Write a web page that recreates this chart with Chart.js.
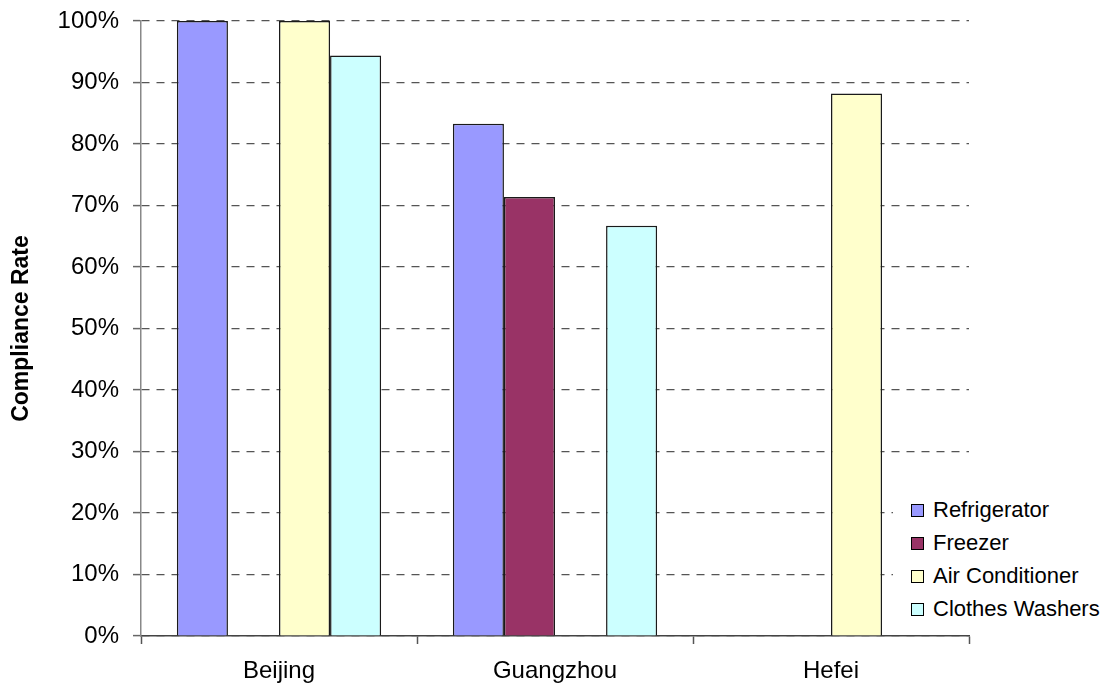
<!DOCTYPE html>
<html>
<head>
<meta charset="utf-8">
<script src="https://cdn.jsdelivr.net/npm/chart.js@4/dist/chart.umd.min.js"></script>
<style>
  html, body { margin: 0; padding: 0; background: #fff; }
  #wrap { position: relative; width: 1107px; height: 686px; }
  #legend { position: absolute; left: 893px; top: 491px; width: 214px; height: 134px; background: #fff;
            font-family: "Liberation Sans", Arial, sans-serif; font-size: 22px; color: #000; }
  .item { position: absolute; left: 18px; height: 24px; line-height: 24px; white-space: nowrap; }
  .box { position: absolute; left: 0; top: 6px; width: 13px; height: 13px; border: 1px solid #000; box-sizing: border-box; }
  .lbl { position: absolute; left: 22px; top: 0; }
</style>
</head>
<body>
<div id="wrap">
  <canvas id="c" width="1107" height="686"></canvas>
  <div id="legend"></div>
</div>
<script>
const categories = ["Beijing", "Guangzhou", "Hefei"];
const seriesNames = ["Refrigerator", "Freezer", "Air Conditioner", "Clothes Washers"];
const refrigerator = [100, 83.3, null];
const freezer = [null, 71.4, null];
const airConditioner = [100, null, 88.2];
const clothesWashers = [94.4, 66.7, null];
const seriesColors = ["#9999FF", "#993366", "#FFFFCC", "#CCFFFF"];
const yTicks = [0, 10, 20, 30, 40, 50, 60, 70, 80, 90, 100];

const seriesValues = [refrigerator, freezer, airConditioner, clothesWashers];

const datasets = seriesNames.map((name, i) => ({
  label: name,
  data: seriesValues[i],
  backgroundColor: seriesColors[i],
  borderColor: "#1a1a1a",
  borderWidth: 1.5,
  borderSkipped: "bottom",
  categoryPercentage: 0.74,
  barPercentage: 1.0,
  clip: false
}));

const FONT = "'Liberation Sans', Arial, sans-serif";

new Chart(document.getElementById("c"), {
  type: "bar",
  data: { labels: categories, datasets },
  options: {
    responsive: false,
    animation: false,
    layout: { padding: { left: 0, right: 138, top: 21, bottom: 0 } },
    plugins: {
      legend: { display: false },
      tooltip: { enabled: false }
    },
    scales: {
      x: {
        offset: true,
        afterFit: (s) => { s.height = 50; s.paddingLeft = 0; s.paddingRight = 0; },
        grid: {
          offset: true,
          drawOnChartArea: false,
          drawTicks: true,
          tickLength: 8,
          tickColor: "#555",
          tickWidth: 1.5
        },
        border: { display: true, color: "#444", width: 1.5 },
        ticks: {
          color: "#000",
          font: { family: FONT, size: 24 },
          padding: 13
        }
      },
      y: {
        min: 0,
        max: 100,
        afterFit: (s) => { s.width = 141; s.paddingTop = 0; s.paddingBottom = 0; },
        afterBuildTicks: (s) => { s.ticks = yTicks.map(v => ({ value: v })); },
        grid: {
          color: "#555",
          lineWidth: 1.2,
          tickBorderDash: [],
          tickLength: 8,
          tickColor: "#666",
          tickWidth: 1.5
        },
        border: { display: true, color: "#888", width: 1.5, dash: [8, 7] },
        ticks: {
          color: "#000",
          font: { family: FONT, size: 24 },
          padding: 14,
          callback: (v) => v + "%"
        },
        title: {
          display: true,
          text: "Compliance Rate",
          color: "#000",
          font: { family: FONT, size: 23, weight: "bold" },
          padding: { top: 8, bottom: 0 }
        }
      }
    }
  }
});

const legend = document.getElementById("legend");
const rowTops = [7, 40, 73, 106];
seriesNames.forEach((name, i) => {
  const it = document.createElement("div");
  it.className = "item";
  it.style.top = rowTops[i] + "px";
  const b = document.createElement("span");
  b.className = "box";
  b.style.background = seriesColors[i];
  const t = document.createElement("span");
  t.className = "lbl";
  t.textContent = name;
  it.appendChild(b);
  it.appendChild(t);
  legend.appendChild(it);
});
</script>
</body>
</html>
